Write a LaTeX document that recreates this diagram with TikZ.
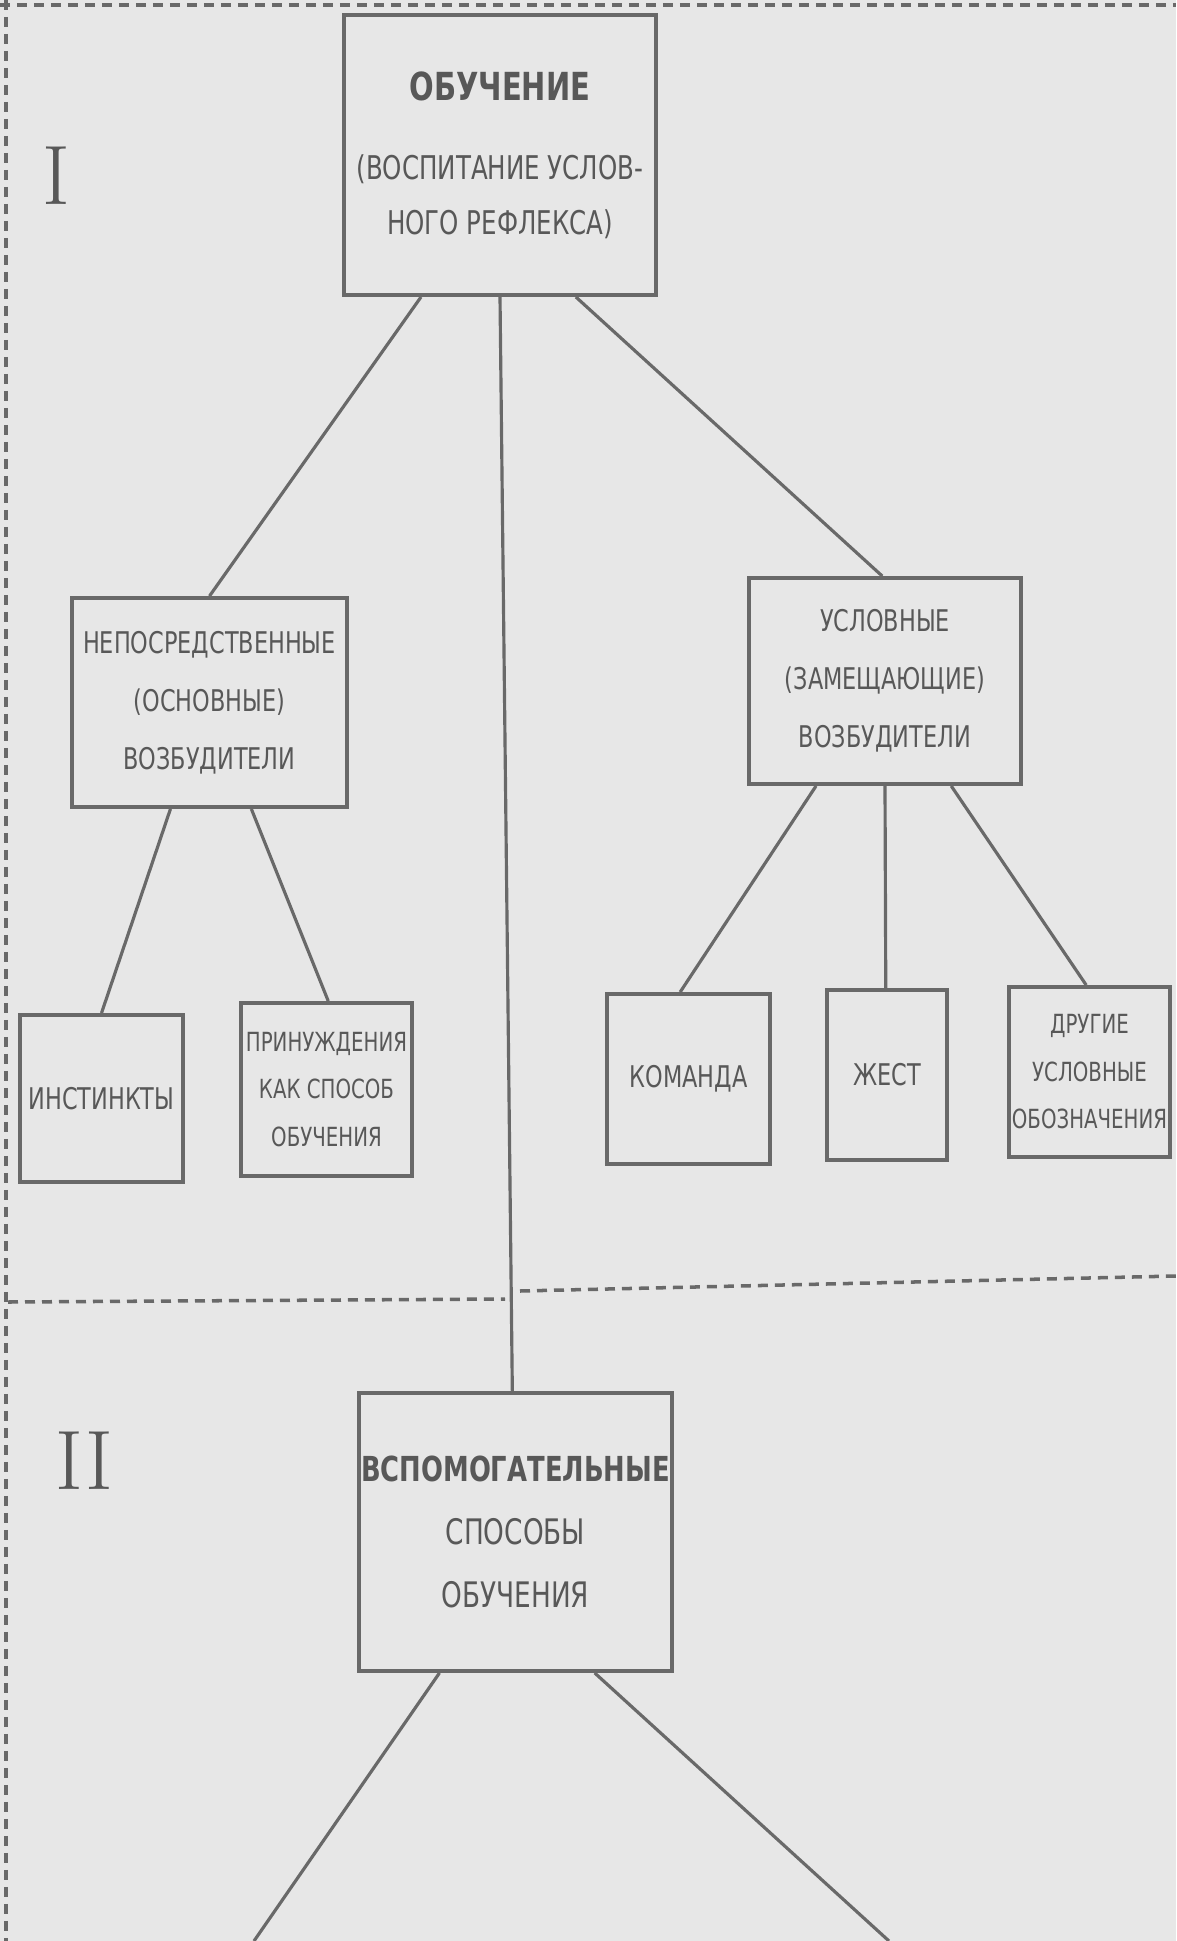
\documentclass[tikz,border=0pt]{standalone}
\usepackage{fontspec}
\newfontfamily\drawfont[FakeStretch=0.75]{DejaVu Sans}
\usepackage{tikz}
\usetikzlibrary{calc}
\definecolor{paper}{RGB}{231,231,231}
\definecolor{boxline}{RGB}{105,105,105}
\definecolor{ink}{RGB}{88,88,88}
\tikzstyle{block} = [rectangle, draw=boxline, line width=1.1pt, fill=paper,
                     align=center, inner sep=0pt, text=ink,
                     font=\drawfont\fontsize{8.5}{16.5}\selectfont]
\tikzstyle{small} = [font=\drawfont\fontsize{7.5}{13.5}\selectfont]
\tikzstyle{link} = [draw=boxline, line width=0.9pt]
\tikzstyle{border} = [draw=boxline, line width=1pt, dash pattern=on 1mm off 0.7mm]
\tikzstyle{numeral} = [text=ink, font=\fontsize{24}{24}\selectfont]

\begin{document}
\begin{tikzpicture}[x=0.1mm, y=-0.1mm]
                \fill[paper] (0,0) rectangle (1176,1941);
                \useasboundingbox (0,0) rectangle (1176,1941);

                % Borders and separator
                \draw[border] (0,5) -- (1176,5);
                \draw[border] (6,0) -- (6,1941);
                \draw[border] (8,1302) -- (505,1299);
                \draw[border] (520,1291) -- (1176,1276);

                % Section numerals
                \node[numeral] (numI) at (56,176) {I};
                \node[numeral] (numII) at (84,1461) {II};

                % Main node
                \node[block, minimum width=31.2mm, minimum height=28mm,
                      font=\drawfont\fontsize{9.3}{15.6}\selectfont] (obuch) at (500,155)
                    {{\fontsize{11}{11}\selectfont\bfseries ОБУЧЕНИЕ}\\[7pt]
                     (ВОСПИТАНИЕ УСЛОВ-\\НОГО РЕФЛЕКСА)};

                % Stimuli
                \node[block, minimum width=27.5mm, minimum height=20.9mm] (nepos) at (209.5,702.5)
                    {НЕПОСРЕДСТВЕННЫЕ\\(ОСНОВНЫЕ)\\ВОЗБУДИТЕЛИ};
                \node[block, minimum width=27.2mm, minimum height=20.6mm] (uslov) at (885,681)
                    {УСЛОВНЫЕ\\(ЗАМЕЩАЮЩИЕ)\\ВОЗБУДИТЕЛИ};

                % Lower row
                \node[block, minimum width=16.3mm, minimum height=16.7mm] (instinkt) at (101.5,1098.5) {ИНСТИНКТЫ};
                \node[block, small, minimum width=17.1mm, minimum height=17.3mm] (prinuzh) at (326.5,1089.5)
                    {ПРИНУЖДЕНИЯ\\КАК СПОСОБ\\ОБУЧЕНИЯ};
                \node[block, minimum width=16.3mm, minimum height=17mm] (komanda) at (688.5,1079) {КОМАНДА};
                \node[block, minimum width=12mm, minimum height=17mm] (zhest) at (887,1075) {ЖЕСТ};
                \node[block, small, minimum width=16.1mm, minimum height=17mm] (drugie) at (1089.5,1072)
                    {ДРУГИЕ\\УСЛОВНЫЕ\\ОБОЗНАЧЕНИЯ};

                % Auxiliary methods
                \node[block, minimum width=31.3mm, minimum height=27.8mm,
                      font=\drawfont\fontsize{10}{18}\selectfont] (vspom) at (515.5,1532)
                    {{\fontsize{9.8}{18}\selectfont\bfseries ВСПОМОГАТЕЛЬНЫЕ}\\
                     СПОСОБЫ\\ОБУЧЕНИЯ};
                \coordinate (endl) at (254,1941);
                \coordinate (endr) at (889,1941);

                % Lines
                \draw[link] ($(obuch.south west)!0.25!(obuch.south east)$) -- ($(nepos.north west)!0.5!(nepos.north east)$);
                \draw[link] ($(obuch.south west)!0.5!(obuch.south east)$) -- ($(vspom.north west)!0.49!(vspom.north east)$);
                \draw[link] ($(obuch.south west)!0.74!(obuch.south east)$) -- ($(uslov.north west)!0.49!(uslov.north east)$);
                \draw[link] ($(nepos.south west)!0.36!(nepos.south east)$) -- ($(instinkt.north west)!0.5!(instinkt.north east)$);
                \draw[link] ($(nepos.south west)!0.65!(nepos.south east)$) -- ($(prinuzh.north west)!0.51!(prinuzh.north east)$);
                \draw[link] ($(uslov.south west)!0.25!(uslov.south east)$) -- ($(komanda.north west)!0.45!(komanda.north east)$);
                \draw[link] ($(uslov.south west)!0.5!(uslov.south east)$) -- ($(zhest.north west)!0.49!(zhest.north east)$);
                \draw[link] ($(uslov.south west)!0.74!(uslov.south east)$) -- ($(drugie.north west)!0.48!(drugie.north east)$);
                \draw[link] ($(vspom.south west)!0.26!(vspom.south east)$) -- (endl);
                \draw[link] ($(vspom.south west)!0.75!(vspom.south east)$) -- (endr);
            \end{tikzpicture}
\end{document}
